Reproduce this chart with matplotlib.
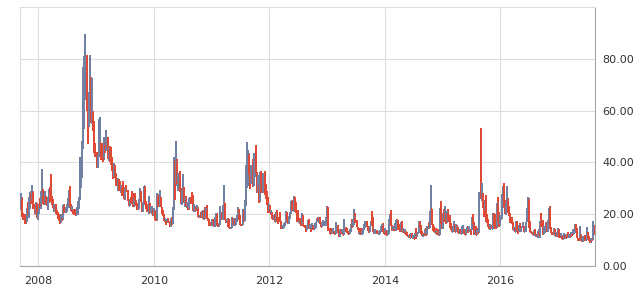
#!/usr/bin/env python3
"""Weekly OHLC bars (VIX-style volatility index), Sep 2007 - Aug 2017."""

import matplotlib
matplotlib.use("Agg")
import matplotlib.pyplot as plt
import matplotlib.dates as mdates
import numpy as np
import pandas as pd

# one bar per week, Fridays from 2007-09-07 to 2017-08-18
first_week = "2007-09-07"
year_ticks = ["2008", "2010", "2012", "2014", "2016"]
value_ticks = [0, 20, 40, 60, 80]

opens = [
    # 2007
    23.5, 26.0, 26.2, 19.2, 18.0, 17.0, 17.0, 22.0, 20.0, 24.0, 28.5, 24.8, 28.9, 22.9, 20.8, 23.2, 18.5,
    # 2008
    20.3, 23.9, 23.7, 27.2, 27.8, 24.0, 26.3, 25.0, 24.0, 26.5, 27.5, 27.0, 26.6, 25.7, 22.4, 23.5, 20.1, 20.0, 18.2, 17.9,
    16.5, 19.0, 17.8, 23.6, 21.0, 22.2, 23.4, 23.5, 27.5, 22.9, 21.3, 22.0, 20.7, 19.9, 19.7, 20.6, 22.6, 25.7, 32.1, 35.0,
    45.1, 69.9, 70.3, 79.1, 59.9, 56.1, 66.3, 72.7, 55.3, 59.9, 54.3, 44.9,
    # 2009
    43.4, 39.2, 42.8, 46.1, 47.3, 44.8, 43.4, 41.3, 47.1, 46.4, 49.3, 42.4, 45.9, 41.0, 39.7, 36.5, 33.9, 35.8, 35.3, 32.1,
    33.1, 32.6, 28.9, 29.6, 28.2, 27.9, 25.9, 29.5, 29.0, 25.0, 23.1, 26.0, 24.8, 24.5, 23.0, 24.8, 24.6, 24.0, 22.1, 25.6,
    28.7, 24.8, 21.4, 24.6, 30.7, 24.1, 22.7, 22.0, 24.4, 21.3, 21.6, 21.7,
    # 2010
    19.5, 21.7, 18.1, 17.9, 27.3, 24.6, 26.1, 22.7, 20.0, 19.5, 17.4, 17.6, 16.9, 17.6, 17.0, 16.1, 18.4, 16.6, 22.0, 40.9,
    31.2, 40.1, 32.1, 35.5, 28.8, 24.0, 28.5, 30.1, 24.9, 26.3, 23.5, 23.6, 22.1, 26.2, 25.5, 24.5, 21.3, 21.9, 22.0, 21.7,
    22.5, 19.0, 19.1, 19.0, 21.2, 18.3, 20.6, 18.0, 22.0, 18.0, 17.6, 16.1, 16.0,
    # 2011
    17.8, 17.1, 15.5, 18.5, 20.0, 15.9, 15.7, 16.4, 19.2, 18.3, 21.0, 24.4, 17.9, 17.4, 17.9, 15.3, 14.7, 14.8, 18.4, 17.1,
    17.4, 15.9, 17.9, 18.9, 20.0, 19.3, 16.0, 15.9, 19.5, 17.5, 25.3, 32.0, 36.4, 43.1, 35.6, 33.9, 38.5, 30.9, 39.5, 42.9,
    36.2, 28.2, 31.3, 25.0, 30.5, 30.0, 32.0, 34.5, 27.5, 26.4, 24.3, 20.7,
    # 2012
    23.4, 20.6, 20.9, 18.3, 18.5, 17.1, 20.8, 17.8, 17.3, 17.2, 17.1, 14.5, 14.8, 15.5, 16.7, 19.6, 17.4, 16.3, 19.2, 19.9,
    25.1, 21.8, 26.7, 21.2, 21.1, 20.1, 17.1, 17.1, 16.7, 16.3, 16.7, 15.6, 14.7, 14.1, 15.2, 17.5, 14.4, 14.5, 13.9, 15.7,
    14.3, 16.1, 17.1, 17.8, 17.6, 18.6, 16.4, 15.1, 15.9, 16.6, 17.0, 17.8,
    # 2013
    22.7, 13.8, 13.4, 12.5, 12.9, 12.8, 13.0, 12.5, 14.2, 15.4, 12.6, 11.3, 13.0, 12.7, 12.9, 12.1, 14.8, 13.6, 12.9, 12.6,
    12.5, 13.9, 16.3, 15.1, 16.3, 18.9, 16.9, 14.9, 14.0, 12.5, 12.7, 11.9, 13.4, 14.4, 14.8, 17.0, 15.4, 14.2, 13.1, 15.5,
    16.7, 15.7, 13.0, 13.1, 13.5, 12.9, 12.2, 12.3, 13.7, 13.8, 15.8, 13.8,
    # 2014
    12.5, 13.8, 12.1, 12.4, 18.1, 18.4, 15.3, 13.6, 14.7, 14.0, 14.1, 17.8, 15.0, 14.4, 13.9, 17.0, 13.4, 14.1, 12.9, 13.0,
    12.4, 11.4, 11.4, 10.7, 12.2, 10.9, 11.3, 10.3, 12.1, 12.0, 12.7, 17.0, 15.8, 13.2, 11.5, 12.1, 12.0, 13.3, 12.1, 14.9,
    14.6, 21.2, 22.0, 16.1, 14.0, 13.1, 13.3, 12.9, 13.3, 11.9, 21.1, 16.5,
    # 2015
    14.5, 17.8, 17.6, 20.9, 16.7, 21.0, 17.3, 14.7, 14.3, 13.3, 15.2, 16.0, 13.0, 15.1, 14.7, 12.6, 13.9, 12.3, 12.7, 12.9,
    12.4, 12.1, 13.8, 14.2, 13.8, 14.0, 13.9, 16.8, 16.7, 11.9, 13.7, 12.1, 13.4, 12.8, 28.0, 26.1, 27.8, 23.2, 22.3, 23.6,
    17.1, 17.0, 15.1, 14.5, 15.1, 14.3, 20.1, 15.5, 15.1, 14.8, 24.4, 20.7,
    # 2016
    16.0, 18.2, 27.0, 27.2, 22.3, 20.2, 23.4, 25.4, 20.5, 19.8, 16.9, 16.5, 14.0, 14.7, 13.1, 15.4, 13.6, 13.2, 15.7, 14.7,
    15.0, 15.2, 13.1, 13.5, 17.0, 19.4, 25.8, 14.8, 13.2, 12.7, 12.0, 12.2, 11.4, 11.6, 11.3, 13.6, 11.9, 17.5, 15.4, 12.3,
    13.3, 13.5, 16.1, 13.3, 16.2, 22.5, 14.2, 12.9, 12.3, 14.1, 11.8, 12.2, 11.4,
    # 2017
    14.0, 11.3, 11.2, 11.5, 10.6, 11.0, 10.9, 11.5, 11.4, 10.9, 11.7, 11.3, 12.9, 12.4, 12.9, 15.9, 14.6, 10.8, 10.6, 10.4,
    12.0, 9.8, 9.9, 10.7, 10.4, 10.0, 11.2, 11.1, 9.5, 9.4, 10.3, 10.0, 15.5,
]

highs = [
    # 2007
    26.5, 28.2, 26.5, 20.5, 20.0, 18.0, 22.5, 24.8, 26.5, 28.5, 28.8, 31.1, 29.0, 24.0, 24.8, 24.2, 21.0,
    # 2008
    24.0, 26.3, 29.0, 37.6, 29.8, 29.0, 27.0, 26.5, 26.6, 29.8, 30.5, 35.6, 27.2, 26.0, 24.0, 24.0, 21.8, 21.0, 19.9, 18.4,
    19.9, 19.5, 23.7, 24.0, 22.8, 24.0, 26.2, 29.4, 30.8, 24.0, 23.3, 22.1, 21.5, 22.0, 22.6, 25.0, 26.5, 42.2, 37.5, 48.4,
    76.9, 81.2, 89.5, 81.5, 62.0, 67.0, 81.5, 73.0, 72.5, 60.0, 56.0, 47.4,
    # 2009
    44.0, 43.0, 56.7, 57.4, 47.5, 46.0, 47.4, 50.0, 48.0, 52.7, 50.0, 46.0, 46.5, 46.0, 42.0, 38.0, 39.6, 39.0, 36.0, 34.0,
    33.5, 32.8, 31.2, 30.5, 33.0, 30.6, 30.0, 31.3, 29.2, 25.5, 26.0, 26.6, 28.9, 28.0, 26.4, 28.0, 25.5, 24.5, 25.7, 30.0,
    29.0, 24.9, 24.7, 30.7, 31.0, 25.0, 23.8, 27.2, 24.5, 23.0, 23.0, 21.8,
    # 2010
    22.5, 21.8, 19.0, 28.0, 27.8, 29.2, 26.5, 22.8, 21.8, 20.0, 18.6, 18.3, 18.3, 18.4, 17.0, 18.4, 18.6, 22.8, 42.1, 41.0,
    48.2, 41.5, 36.0, 36.5, 30.0, 29.2, 35.4, 30.5, 26.3, 27.0, 24.9, 23.8, 26.3, 26.4, 28.4, 27.4, 24.0, 22.3, 23.0, 23.7,
    22.8, 19.8, 21.0, 21.3, 21.6, 21.5, 22.6, 22.5, 23.5, 18.5, 18.0, 16.8, 18.0,
    # 2011
    18.0, 17.3, 19.0, 20.5, 20.5, 16.4, 16.6, 23.2, 21.0, 23.5, 31.3, 24.5, 18.0, 18.0, 18.5, 18.3, 15.1, 18.9, 18.5, 18.5,
    18.3, 18.5, 19.5, 22.7, 22.0, 19.6, 16.2, 22.1, 21.7, 25.3, 39.0, 48.0, 44.9, 43.8, 36.0, 39.0, 41.5, 43.5, 43.0, 46.9,
    36.3, 35.0, 31.5, 36.3, 36.7, 36.0, 35.8, 36.5, 31.5, 28.8, 26.5, 24.0,
    # 2012
    23.5, 21.8, 21.0, 19.8, 20.1, 20.8, 21.6, 18.2, 19.0, 20.8, 17.3, 15.8, 16.5, 16.8, 21.1, 20.8, 19.0, 19.3, 21.0, 25.1,
    25.5, 27.0, 26.8, 24.6, 21.3, 21.7, 17.5, 18.6, 17.4, 20.4, 19.5, 15.9, 15.0, 16.0, 17.8, 18.0, 16.4, 15.0, 16.6, 15.9,
    16.5, 17.1, 18.6, 19.0, 19.0, 18.8, 16.9, 16.6, 17.8, 17.2, 19.0, 23.2,
    # 2013
    22.8, 14.6, 14.5, 13.6, 14.5, 14.6, 13.4, 16.8, 16.0, 15.8, 12.9, 14.4, 14.3, 14.2, 13.2, 18.0, 14.9, 14.5, 13.4, 13.0,
    14.4, 16.3, 18.0, 18.0, 21.9, 20.5, 17.6, 15.2, 14.5, 13.3, 14.5, 13.7, 14.5, 16.1, 17.5, 17.5, 15.6, 14.8, 15.6, 17.5,
    21.3, 18.8, 14.1, 14.2, 14.0, 13.5, 13.5, 13.8, 15.4, 16.3, 16.5, 14.0,
    # 2014
    14.7, 14.0, 13.9, 18.2, 19.9, 21.5, 15.7, 15.4, 15.5, 16.7, 17.9, 17.9, 16.2, 14.8, 17.0, 17.5, 14.4, 14.3, 14.2, 13.4,
    13.2, 12.0, 12.4, 12.6, 12.6, 12.0, 11.6, 12.6, 14.5, 12.8, 17.2, 17.4, 15.9, 13.5, 12.2, 12.9, 14.2, 14.6, 15.6, 17.1,
    21.3, 31.1, 22.0, 16.4, 15.5, 13.7, 14.7, 13.5, 14.3, 22.5, 25.2, 16.8,
    # 2015
    20.5, 22.0, 23.0, 21.0, 21.4, 21.9, 19.7, 16.6, 15.2, 15.5, 17.2, 16.2, 16.3, 16.0, 15.0, 14.3, 13.9, 15.3, 15.7, 14.3,
    12.8, 14.1, 14.9, 15.4, 15.3, 14.1, 19.0, 20.0, 16.9, 14.0, 15.6, 14.1, 14.6, 28.4, 53.3, 32.0, 28.0, 23.5, 25.4, 27.5,
    20.1, 18.0, 16.1, 16.4, 16.0, 20.6, 20.5, 16.4, 20.0, 24.5, 26.8, 21.0,
    # 2016
    19.5, 27.7, 30.9, 32.1, 25.4, 24.3, 30.9, 26.2, 23.0, 20.3, 19.0, 17.1, 15.0, 15.0, 17.2, 17.2, 14.0, 16.0, 16.5, 15.2,
    17.1, 15.5, 14.8, 17.1, 22.4, 26.7, 26.1, 17.3, 13.7, 13.2, 14.0, 14.3, 12.3, 12.5, 13.7, 14.2, 17.5, 20.5, 17.9, 15.4,
    14.2, 17.0, 17.0, 17.6, 22.5, 23.0, 14.9, 13.2, 14.5, 14.2, 13.2, 12.5, 14.7,
    # 2017
    14.1, 12.3, 12.8, 12.0, 12.9, 12.0, 12.4, 12.0, 13.0, 12.3, 12.3, 13.1, 13.0, 14.3, 16.2, 16.3, 14.7, 11.0, 11.0, 15.6,
    12.3, 11.0, 11.4, 12.0, 11.2, 15.2, 13.3, 11.4, 10.0, 11.0, 11.0, 17.3, 16.0,
]

lows = [
    # 2007
    21.5, 22.8, 19.0, 17.9, 16.4, 16.1, 16.8, 19.8, 18.5, 22.0, 23.8, 24.5, 21.9, 20.0, 19.6, 18.5, 17.8,
    # 2008
    20.0, 22.3, 22.0, 25.5, 24.0, 23.5, 23.8, 23.0, 21.6, 24.5, 24.9, 25.5, 23.5, 22.4, 20.7, 20.0, 19.6, 18.2, 17.3, 16.3,
    16.5, 17.6, 17.7, 20.5, 20.5, 20.9, 22.9, 22.5, 22.6, 21.2, 21.0, 20.0, 19.5, 19.6, 19.6, 19.8, 22.1, 25.5, 30.0, 34.0,
    45.0, 52.9, 64.0, 59.9, 47.1, 53.5, 62.0, 55.1, 55.0, 52.0, 43.7, 42.0,
    # 2009
    38.0, 37.9, 42.0, 45.0, 41.0, 41.5, 40.0, 41.0, 43.5, 44.5, 41.5, 40.5, 40.0, 39.0, 36.5, 33.7, 33.8, 34.0, 31.0, 28.8,
    29.0, 28.8, 28.0, 27.1, 27.5, 25.8, 25.5, 28.7, 25.0, 23.1, 23.0, 24.4, 23.8, 22.9, 22.6, 24.0, 23.0, 21.7, 22.0, 24.9,
    24.7, 21.0, 20.8, 23.6, 24.0, 22.2, 21.0, 20.0, 20.6, 20.8, 20.2, 19.4,
    # 2010
    19.4, 17.9, 17.5, 17.5, 22.6, 22.6, 22.6, 19.9, 19.2, 17.3, 16.9, 16.0, 16.6, 16.9, 15.2, 15.2, 16.0, 16.3, 21.5, 25.5,
    30.8, 31.5, 29.0, 28.7, 24.0, 23.5, 28.0, 24.5, 22.9, 23.2, 22.5, 21.8, 21.5, 23.9, 24.2, 21.3, 21.0, 21.0, 21.3, 21.5,
    18.9, 18.5, 18.6, 18.8, 18.3, 17.8, 18.0, 18.0, 18.0, 17.3, 15.5, 15.6, 15.5,
    # 2011
    16.9, 15.2, 15.1, 15.5, 15.7, 15.1, 15.2, 16.0, 17.6, 17.7, 20.4, 17.9, 16.7, 16.6, 15.2, 14.6, 14.3, 14.6, 15.8, 15.5,
    15.9, 15.7, 16.9, 18.5, 17.9, 15.9, 15.3, 15.9, 17.1, 17.3, 23.0, 30.0, 30.8, 35.0, 29.9, 31.8, 30.5, 30.8, 34.5, 36.1,
    28.0, 28.0, 24.5, 24.9, 28.2, 28.3, 31.3, 27.5, 26.0, 23.5, 20.5, 20.6,
    # 2012
    20.6, 19.8, 18.3, 17.6, 16.9, 17.0, 17.3, 16.3, 16.8, 16.9, 14.3, 14.4, 14.8, 15.5, 16.5, 17.2, 16.3, 16.3, 18.3, 19.9,
    21.5, 21.0, 21.2, 20.5, 17.1, 17.0, 16.5, 16.2, 15.5, 16.0, 15.6, 14.7, 13.3, 13.8, 15.0, 14.4, 14.1, 13.3, 13.9, 14.1,
    14.2, 14.8, 17.0, 17.6, 16.6, 16.3, 15.1, 15.1, 15.8, 15.6, 15.6, 17.5,
    # 2013
    13.6, 13.4, 12.3, 12.3, 12.5, 12.8, 12.4, 12.4, 14.0, 12.6, 11.1, 11.2, 12.2, 12.4, 11.9, 12.1, 13.1, 12.8, 12.3, 12.1,
    12.2, 13.0, 15.0, 15.1, 15.8, 16.5, 14.9, 13.8, 12.5, 12.3, 11.8, 11.9, 12.5, 14.0, 14.5, 15.0, 13.7, 12.9, 13.1, 15.4,
    15.7, 13.0, 12.4, 12.5, 12.5, 12.2, 12.2, 12.2, 13.7, 13.2, 13.0, 12.3,
    # 2014
    12.5, 12.0, 12.1, 12.3, 16.4, 15.3, 13.4, 13.6, 13.7, 13.9, 13.6, 14.0, 14.3, 13.0, 13.9, 13.3, 12.9, 12.9, 12.4, 12.0,
    11.4, 11.0, 10.7, 10.7, 10.8, 10.6, 10.3, 10.3, 10.6, 11.1, 12.7, 14.6, 12.3, 11.4, 11.1, 11.9, 11.5, 12.0, 12.0, 14.1,
    14.5, 20.0, 16.0, 13.6, 13.1, 12.9, 12.4, 11.9, 11.8, 11.8, 16.4, 14.1,
    # 2015
    14.3, 17.0, 17.6, 16.4, 16.7, 17.3, 14.7, 14.0, 13.1, 13.0, 15.0, 13.0, 13.0, 14.3, 12.6, 12.4, 12.3, 12.3, 12.6, 12.3,
    11.8, 12.0, 12.7, 12.8, 13.0, 12.0, 13.9, 16.2, 11.9, 11.9, 12.1, 11.9, 12.8, 12.6, 26.0, 25.0, 22.5, 19.1, 21.5, 17.1,
    16.6, 15.1, 14.2, 13.9, 14.1, 14.2, 15.4, 14.3, 14.5, 14.5, 16.8, 15.2,
    # 2016
    15.6, 18.1, 22.5, 22.3, 20.2, 19.7, 23.0, 20.5, 19.3, 16.6, 16.4, 14.0, 13.7, 13.1, 13.0, 13.6, 12.5, 13.0, 14.5, 13.3,
    14.7, 13.0, 13.0, 13.2, 17.0, 17.0, 14.8, 13.2, 12.6, 11.9, 11.9, 11.4, 11.2, 11.3, 11.0, 11.8, 11.0, 15.2, 11.9, 12.3,
    12.8, 13.5, 13.3, 13.0, 16.0, 14.2, 12.8, 12.1, 12.1, 11.6, 11.3, 11.3, 11.2,
    # 2017
    11.0, 10.9, 11.2, 10.6, 10.6, 10.7, 10.6, 10.8, 10.9, 10.8, 11.2, 11.1, 11.5, 12.1, 12.9, 13.7, 10.8, 9.6, 9.6, 9.8,
    9.8, 9.6, 9.4, 9.7, 9.8, 10.0, 10.6, 9.5, 9.0, 8.8, 9.5, 9.9, 12.0,
]

closes = [
    # 2007
    26.2, 26.2, 19.0, 18.0, 17.0, 16.9, 22.0, 20.0, 24.0, 28.5, 24.8, 28.9, 22.9, 20.8, 23.2, 18.5, 20.3,
    # 2008
    23.9, 23.7, 27.2, 27.8, 24.0, 26.3, 25.0, 24.0, 26.5, 27.5, 27.0, 26.6, 25.7, 22.4, 23.5, 20.1, 20.0, 18.2, 17.9, 16.5,
    19.0, 17.8, 23.6, 21.0, 22.2, 23.4, 23.5, 27.5, 22.9, 21.3, 22.0, 20.7, 19.9, 19.7, 20.6, 22.6, 25.7, 32.1, 35.0, 45.1,
    69.9, 70.3, 79.1, 59.9, 56.1, 66.3, 72.7, 55.3, 59.9, 54.3, 44.9, 43.4,
    # 2009
    39.2, 42.8, 46.1, 47.3, 44.8, 43.4, 41.3, 47.1, 46.4, 49.3, 42.4, 45.9, 41.0, 39.7, 36.5, 33.9, 35.8, 35.3, 32.1, 33.1,
    32.6, 28.9, 29.6, 28.2, 27.9, 25.9, 29.5, 29.0, 25.0, 23.1, 26.0, 24.8, 24.5, 23.0, 24.8, 24.6, 24.0, 22.1, 25.6, 28.7,
    24.8, 21.4, 24.6, 30.7, 24.1, 22.7, 22.0, 24.4, 21.3, 21.6, 21.7, 19.5,
    # 2010
    21.7, 18.1, 17.9, 27.3, 24.6, 26.1, 22.7, 20.0, 19.5, 17.4, 17.6, 16.9, 17.6, 17.0, 16.1, 18.4, 16.6, 22.0, 40.9, 31.2,
    40.1, 32.1, 35.5, 28.8, 24.0, 28.5, 30.1, 24.9, 26.3, 23.5, 23.6, 22.1, 26.2, 25.5, 24.5, 21.3, 21.9, 22.0, 21.7, 22.5,
    19.0, 19.1, 19.0, 21.2, 18.3, 20.6, 18.0, 22.0, 18.0, 17.6, 16.1, 16.0, 17.8,
    # 2011
    17.1, 15.5, 18.5, 20.0, 15.9, 15.7, 16.4, 19.2, 18.3, 21.0, 24.4, 17.9, 17.4, 17.9, 15.3, 14.7, 14.8, 18.4, 17.1, 17.4,
    15.9, 17.9, 18.9, 20.0, 19.3, 16.0, 15.9, 19.5, 17.5, 25.3, 32.0, 36.4, 43.1, 35.6, 33.9, 38.5, 30.9, 39.5, 42.9, 36.2,
    28.2, 31.3, 25.0, 30.5, 30.0, 32.0, 34.5, 27.5, 26.4, 24.3, 20.7, 23.4,
    # 2012
    20.6, 20.9, 18.3, 18.5, 17.1, 20.8, 17.8, 17.3, 17.2, 17.1, 14.5, 14.8, 15.5, 16.7, 19.6, 17.4, 16.3, 19.2, 19.9, 25.1,
    21.8, 26.7, 21.2, 21.1, 20.1, 17.1, 17.1, 16.7, 16.3, 16.7, 15.6, 14.7, 14.1, 15.2, 17.5, 14.4, 14.5, 13.9, 15.7, 14.3,
    16.1, 17.1, 17.8, 17.6, 18.6, 16.4, 15.1, 15.9, 16.6, 17.0, 17.8, 22.7,
    # 2013
    13.8, 13.4, 12.5, 12.9, 12.8, 13.0, 12.5, 14.2, 15.4, 12.6, 11.3, 13.0, 12.7, 12.9, 12.1, 14.8, 13.6, 12.9, 12.6, 12.5,
    13.9, 16.3, 15.1, 16.3, 18.9, 16.9, 14.9, 14.0, 12.5, 12.7, 11.9, 13.4, 14.4, 14.8, 17.0, 15.4, 14.2, 13.1, 15.5, 16.7,
    15.7, 13.0, 13.1, 13.5, 12.9, 12.2, 12.3, 13.7, 13.8, 15.8, 13.8, 12.5,
    # 2014
    13.8, 12.1, 12.4, 18.1, 18.4, 15.3, 13.6, 14.7, 14.0, 14.1, 17.8, 15.0, 14.4, 13.9, 17.0, 13.4, 14.1, 12.9, 13.0, 12.4,
    11.4, 11.4, 10.7, 12.2, 10.9, 11.3, 10.3, 12.1, 12.0, 12.7, 17.0, 15.8, 13.2, 11.5, 12.1, 12.0, 13.3, 12.1, 14.9, 14.6,
    21.2, 22.0, 16.1, 14.0, 13.1, 13.3, 12.9, 13.3, 11.9, 21.1, 16.5, 14.5,
    # 2015
    17.8, 17.6, 20.9, 16.7, 21.0, 17.3, 14.7, 14.3, 13.3, 15.2, 16.0, 13.0, 15.1, 14.7, 12.6, 13.9, 12.3, 12.7, 12.9, 12.4,
    12.1, 13.8, 14.2, 13.8, 14.0, 13.9, 16.8, 16.7, 11.9, 13.7, 12.1, 13.4, 12.8, 28.0, 26.1, 27.8, 23.2, 22.3, 23.6, 17.1,
    17.0, 15.1, 14.5, 15.1, 14.3, 20.1, 15.5, 15.1, 14.8, 24.4, 20.7, 16.0,
    # 2016
    18.2, 27.0, 27.2, 22.3, 20.2, 23.4, 25.4, 20.5, 19.8, 16.9, 16.5, 14.0, 14.7, 13.1, 15.4, 13.6, 13.2, 15.7, 14.7, 15.0,
    15.2, 13.1, 13.5, 17.0, 19.4, 25.8, 14.8, 13.2, 12.7, 12.0, 12.2, 11.4, 11.6, 11.3, 13.6, 11.9, 17.5, 15.4, 12.3, 13.3,
    13.5, 16.1, 13.3, 16.2, 22.5, 14.2, 12.9, 12.3, 14.1, 11.8, 12.2, 11.4, 14.0,
    # 2017
    11.3, 11.2, 11.5, 10.6, 11.0, 10.9, 11.5, 11.4, 10.9, 11.7, 11.3, 12.9, 12.4, 12.9, 15.9, 14.6, 10.8, 10.6, 10.4, 12.0,
    9.8, 9.9, 10.7, 10.4, 10.0, 11.2, 11.1, 9.5, 9.4, 10.3, 10.0, 15.5, 14.3,
]

UP = "#7181a3"
DOWN = "#de4a36"
GRID = "#dedede"
TEXT = "#333333"

n = len(closes)
assert len(opens) == len(highs) == len(lows) == n, (len(opens), len(highs), len(lows), n)

weeks = pd.date_range(first_week, periods=n, freq="W-FRI")
x = mdates.date2num(weeks)
o = np.array(opens)
h = np.array(highs)
lo = np.array(lows)
c = np.array(closes)
colors = np.where(c >= o, UP, DOWN)

fig = plt.figure(figsize=(6.36, 2.90), dpi=100)
ax = fig.add_axes([20 / 636, 1 - 266 / 290, 575 / 636, 259 / 290])

# high-low bars with open (left) and close (right) ticks
ax.vlines(x, lo, h, colors=colors, linewidth=1.4, antialiased=False, zorder=3)
ax.hlines(o, x - 3, x, colors=colors, linewidth=1.2, antialiased=False, zorder=3)
ax.hlines(c, x, x + 3, colors=colors, linewidth=1.2, antialiased=False, zorder=3)

ax.set_xlim(mdates.date2num(pd.Timestamp(first_week)) - 1,
            mdates.date2num(pd.Timestamp("2017-08-21")))
ax.set_ylim(0, 100)

ax.set_xticks(mdates.date2num(pd.to_datetime([f"{y}-01-01" for y in year_ticks])))
ax.set_xticklabels(year_ticks)
ax.set_yticks(value_ticks)
ax.set_yticklabels([f"{v:.2f}" for v in value_ticks])

ax.yaxis.tick_right()
ax.tick_params(axis="both", length=0, labelsize=8, labelcolor=TEXT)
ax.tick_params(axis="y", pad=5)
ax.tick_params(axis="x", pad=7)
ax.grid(True, color=GRID, linewidth=0.8, zorder=0)
ax.set_axisbelow(True)

ax.spines["left"].set_color(GRID)
ax.spines["top"].set_color(GRID)
ax.spines["bottom"].set_color("#a6a6a6")
ax.spines["right"].set_color("#a6a6a6")
for s in ax.spines.values():
    s.set_linewidth(0.8)

fig.savefig("out.png", dpi=100)
plt.close(fig)
